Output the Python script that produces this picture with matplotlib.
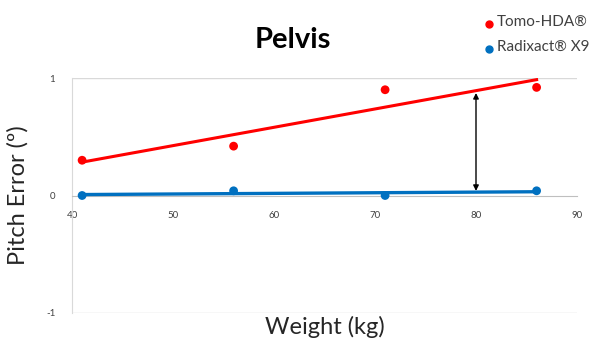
import numpy as np
import matplotlib
matplotlib.use("Agg")
import matplotlib.pyplot as plt

plt.rcParams['font.family'] = ['Lato', 'DejaVu Sans']

weight = [41, 56, 71, 86]
tomo = [0.30, 0.42, 0.90, 0.92]
radixact = [0.00, 0.04, 0.00, 0.04]
series_names = ["Tomo-HDA®", "Radixact® X9"]
arrow_x = 80

fig = plt.figure(figsize=(5.97, 3.48), dpi=100)
ax = fig.add_axes([72/597, 1-313/348, (577-72)/597, (313-78)/348])
ax.set_xlim(40, 90)
ax.set_ylim(-1, 1)

red = '#ff0000'
blue = '#0070c0'

xs = np.array([min(weight), max(weight)])
pt = np.polyfit(weight, tomo, 1)
pr = np.polyfit(weight, radixact, 1)
ax.plot(xs, np.polyval(pt, xs), color=red, lw=2.2, zorder=3)
ax.plot(xs, np.polyval(pr, xs), color=blue, lw=2.4, zorder=3)
ax.scatter(weight, tomo, color=red, s=40, zorder=4, edgecolors='none')
ax.scatter(weight, radixact, color=blue, s=40, zorder=4, edgecolors='none')

ytop = np.polyval(pt, arrow_x) - 0.02
ybot = np.polyval(pr, arrow_x) + 0.01
ax.annotate('', xy=(arrow_x, ytop), xytext=(arrow_x, ybot),
            arrowprops=dict(arrowstyle='<|-|>', color='black', lw=1.0,
                            mutation_scale=8, shrinkA=0, shrinkB=0), zorder=5)

for y in [1, -1]:
    ax.axhline(y, color='#d9d9d9', lw=1.0, zorder=1)

for s in ['top', 'right']:
    ax.spines[s].set_visible(False)
ax.spines['bottom'].set_position(('data', 0))
ax.spines['bottom'].set_color('#bfbfbf')
ax.spines['left'].set_color('#d9d9d9')

ax.set_xticks([40, 50, 60, 70, 80, 90])
ax.set_yticks([-1, 0, 1])
ax.set_yticklabels(['-1', '0', '1'])
ax.tick_params(axis='both', length=0, labelsize=7, colors='#404040')
ax.tick_params(axis='x', pad=11)
ax.tick_params(axis='y', pad=12)

fig.text(293/597, 1-40/348, 'Pelvis', ha='center', va='center', fontsize=21, fontweight='bold')
fig.text(325/597, 1-327/348, 'Weight (kg)', ha='center', va='center', fontsize=17, color='#262626')
fig.text(18/597, 1-195/348, 'Pitch Error (º)', ha='center', va='center', fontsize=17,
         rotation=90, color='#262626')

# legend
leg_y = [22, 47]
cols = [red, blue]
for name, c, yy in zip(series_names, cols, leg_y):
    fig.text(497/597, 1-yy/348, name, ha='left', va='center', fontsize=11, color='#404040')
    fig.add_artist(plt.Line2D([489/597], [1-(yy+2)/348], marker='o', color=c,
                              markersize=5, ls='none', transform=fig.transFigure))

fig.savefig('out.png', dpi=100)
